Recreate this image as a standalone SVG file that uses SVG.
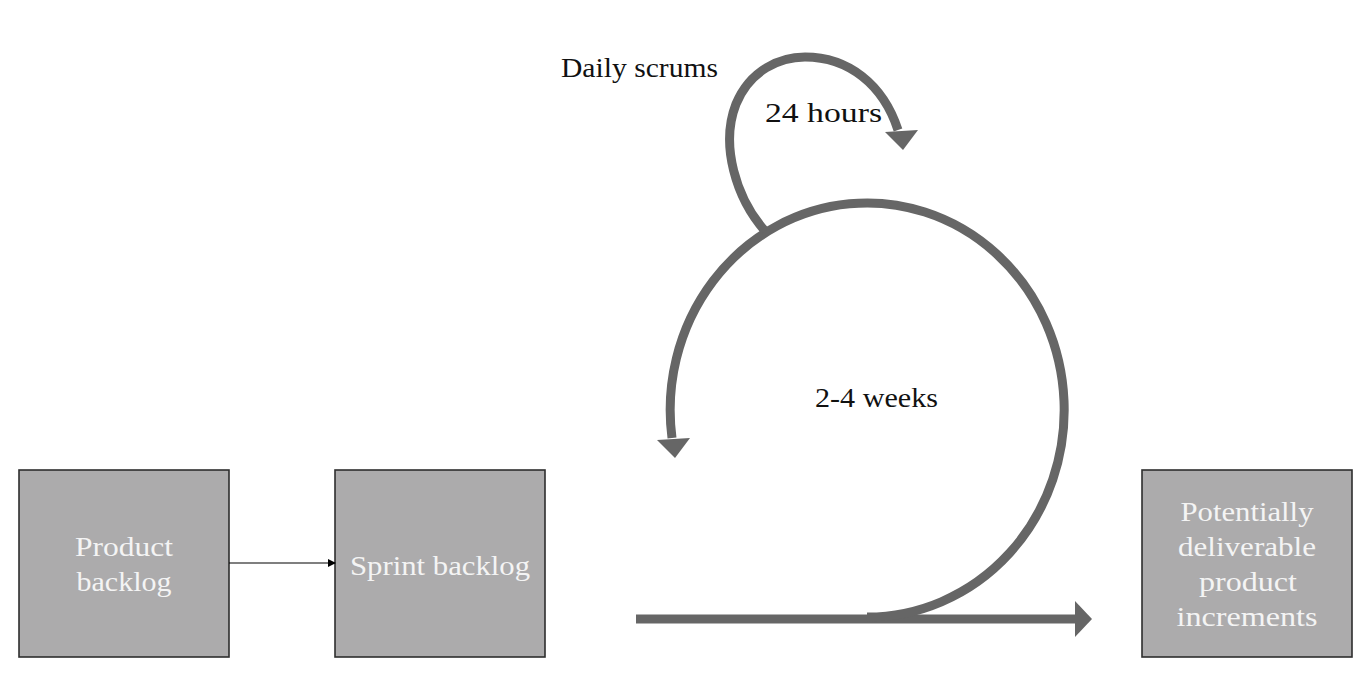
<svg xmlns="http://www.w3.org/2000/svg" width="1372" height="690" viewBox="0 0 1372 690">
<style>
.box{fill:#acabac;stroke:#2e2e2e;stroke-width:1.6}
.bt{font-family:"Liberation Serif","DejaVu Serif",serif;font-size:27px;fill:#f4f4f4;text-anchor:middle}
.lt{font-family:"Liberation Serif","DejaVu Serif",serif;font-size:27px;fill:#111}
.flow{fill:none;stroke:#666;stroke-width:9}
.head{fill:#666}
</style>
<defs>
<marker id="ah" markerWidth="8" markerHeight="8" refX="7" refY="4" orient="auto" markerUnits="userSpaceOnUse">
<path d="M0,0 L8,4 L0,8 Z" fill="#000"/>
</marker>
</defs>
<rect width="1372" height="690" fill="#fff"/>
<g id="product-backlog">
<rect class="box" x="19" y="470" width="210" height="187"/>
<text class="bt" x="124" y="556" textLength="98" lengthAdjust="spacingAndGlyphs">Product</text>
<text class="bt" x="124" y="591" textLength="95" lengthAdjust="spacingAndGlyphs">backlog</text>
</g>
<g id="sprint-backlog">
<rect class="box" x="335" y="470" width="210" height="187"/>
<text class="bt" x="440" y="575" textLength="180" lengthAdjust="spacingAndGlyphs">Sprint backlog</text>
</g>
<g id="increments">
<rect class="box" x="1142" y="470" width="210" height="187"/>
<text class="bt" x="1247" y="521" textLength="133" lengthAdjust="spacingAndGlyphs">Potentially</text>
<text class="bt" x="1247" y="556" textLength="138" lengthAdjust="spacingAndGlyphs">deliverable</text>
<text class="bt" x="1248" y="591" textLength="98" lengthAdjust="spacingAndGlyphs">product</text>
<text class="bt" x="1247" y="626" textLength="141" lengthAdjust="spacingAndGlyphs">increments</text>
</g>
<g id="connectors">
<line x1="229" y1="563" x2="335" y2="563" stroke="#000" stroke-width="1.2" marker-end="url(#ah)"/>
<path class="flow" d="M636 619 L1078 619"/>
<polygon class="head" points="1075,601 1092,619 1075,637"/>
<path class="flow" stroke-width="8" d="M867 617 A197 207 0 1 0 672 438"/>
<polygon class="head" points="657,440 690,438 675,458"/>
<path class="flow" stroke-width="8" d="M765 231 C736 198 720 145 736 104 C750 70 780 57 805 57 C848 57 883 84 898 130"/>
<polygon class="head" points="885,132 918,130 903,150"/>
</g>
<g id="labels">
<text class="lt" x="561" y="77" textLength="157" lengthAdjust="spacingAndGlyphs">Daily scrums</text>
<text class="lt" x="765" y="122" textLength="117" lengthAdjust="spacingAndGlyphs">24 hours</text>
<text class="lt" x="815" y="407" textLength="123" lengthAdjust="spacingAndGlyphs">2-4 weeks</text>
</g>
</svg>
